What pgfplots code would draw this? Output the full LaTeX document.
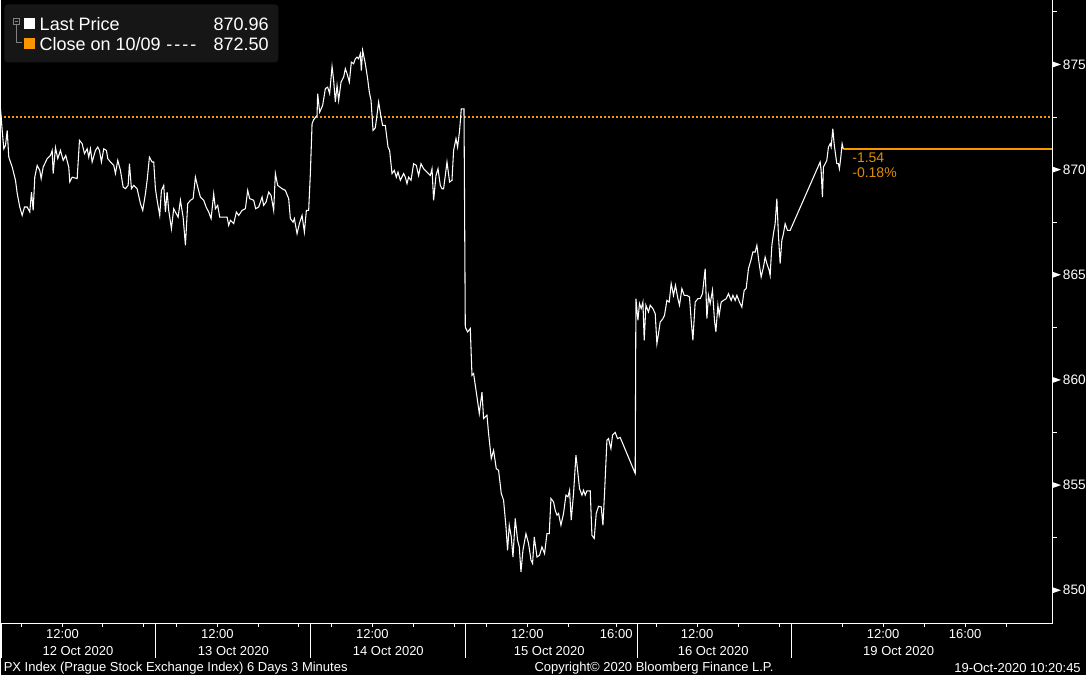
\documentclass[border=0pt]{standalone}
\usepackage{fontspec}
\setmainfont{Liberation Sans}
\usepackage{pgfplots}
\pgfplotsset{compat=1.18}

\definecolor{bbgorange}{RGB}{250,150,0}
\definecolor{bbgtext}{RGB}{225,140,0}
\definecolor{legbg}{RGB}{22,22,22}
\newcommand{\axfont}{\fontsize{9.75pt}{11pt}\selectfont}
\newcommand{\legfont}{\fontsize{13.5pt}{15pt}\selectfont}

\begin{document}
\begin{tikzpicture}
% page = 1086 x 675 px, 1px = 0.75pt, y downwards in the pixel scope
\begin{scope}[x=0.75pt,y=-0.75pt]
  \path[use as bounding box, fill=black] (0,0) rectangle (1086,675);
\end{scope}

\begin{axis}[
    at={(0pt,-467.25pt)}, anchor=south west,
    scale only axis, width=789pt, height=467.25pt,
    xmin=0, xmax=1052, ymin=848.43, ymax=878.04,
    axis x line*=bottom, axis y line*=right,
    axis line style={draw=none},
    tick style={draw=none}, major tick length=0pt, minor tick length=0pt,
    xtick={21,62,102,143,176,217,258,298,331,372,413,454,486,527,568,616,656,697,738,779,842,883,924,965,1006},
    xticklabels={,12:00,,,,12:00,,,,12:00,,,,12:00,,16:00,,12:00,,,,12:00,,16:00,},
    xticklabel style={anchor=center, inner sep=0pt, yshift=-8.25pt, text=white, font=\axfont},
    ytick={850,855,860,865,870,875},
    yticklabel style={anchor=west, inner sep=0pt, xshift=8pt, text=white, font=\fontsize{10.25pt}{12pt}\selectfont},
    /pgf/number format/assume math mode=true,
]
% close on 10/09
\addplot[draw=bbgorange, line width=1.5pt, dash pattern=on 1.5pt off 1.5pt] coordinates {(0,872.5) (1052,872.5)};

% last price marker line
\addplot[draw=bbgorange, line width=1.5pt] coordinates {(844,870.96) (1052,870.96)};

% last price, 3 minute bars
\addplot[draw=white, line width=0.8pt] coordinates {
% 12 Oct
(0,872.89) (1.7,871.86) (3.3,870.99) (5,871.15) (6.7,871.86) (8.3,870.59) (11.7,870.12)
(15,869.49) (16.7,868.87) (19.3,868.22) (21.7,867.82) (24,868.22) (26.7,868.22) (29.3,867.98)
(31,868.93) (32.7,868.06) (34.3,869.64) (36.7,870.20) (39.3,869.96) (40.7,869.57) (42.7,870.12)
(46.7,870.52) (50,870.67) (51.7,870.91) (52.7,869.81) (55,871.04) (57.3,870.52) (60,870.91)
(62.7,870.44) (65.3,870.67) (68.3,870.12) (69.3,869.41) (71.7,869.64) (76.7,869.57) (79,871.39)
(81.7,871.23) (84,870.76) (86.7,870.99) (88.3,870.59) (90,870.99) (91.7,870.36) (95,870.91)
(97.3,871.07) (99,870.91) (101,870.36) (103.3,870.99) (106,870.91) (107.3,870.52) (110,870.36)
(113.3,870.20) (115,869.81) (117.3,870.44) (120,869.96) (122.7,869.17) (125,869.09) (127.7,869.25)
(129,870.28) (131,869.09) (133.3,869.25) (136.7,869.09) (140,868.38) (142.3,868.06) (145,868.85)
(146.7,869.49) (149,870.59) (151.7,870.36) (153.3,870.36)
% 13 Oct
(155,869.09) (156.7,868.54) (159.3,867.82) (161,869.01) (163.3,869.25) (165,867.98) (166.7,868.93)
(168.3,868.06) (171,867.19) (173.3,868.14) (175,867.98) (177.7,867.74) (180,868.54) (182.7,867.74)
(185,866.40) (187.3,868.38) (190,868.54) (192.7,868.62) (195,869.64) (197.3,869.17) (200,868.69)
(203.3,868.54) (205.7,868.22) (208.3,867.98) (210.7,867.67) (213.3,868.85) (215,868.14) (217.3,868.30)
(219.3,867.74) (226.7,867.74) (228.3,867.35) (230,867.59) (233.3,867.43) (236,867.98) (238.3,867.82)
(241.7,868.06) (245,868.14) (247.3,869.01) (249.3,868.62) (253.3,868.54) (255.3,868.14) (258.3,868.22)
(261.7,868.69) (263.3,868.30) (265.7,868.46) (268.3,868.93) (270.7,868.77) (273.3,868.06) (275,869.81)
(277.3,869.25) (281.7,869.09) (285,869.01) (288.3,868.62) (290,867.67) (292.7,867.50) (294,867.67)
(296.7,866.95) (299,867.43) (301.7,867.82) (304,867.03) (306,868.06) (308.3,868.06) (310,869.81)
% 14 Oct
(311.7,872.18) (313.3,872.37) (316.7,872.58) (317.3,873.61) (319.3,872.73) (322.3,873.05) (325,873.85)
(327.3,873.92) (329.3,873.61) (331.7,874.90) (333.3,874.24) (335,873.21) (336.7,874.00) (338.3,873.29)
(340.7,874.16) (343.3,874.40) (345,874.80) (346.7,874.56) (349,874.16) (351,875.11) (353.3,875.03)
(355,875.27) (356.7,875.35) (358.3,875.27) (360,875.51) (361,874.71) (362.3,875.67) (365,875.03)
(367.3,874.32) (369,873.68) (370.7,873.29) (372.7,871.86) (375,871.99) (378.3,873.21) (380.7,872.50)
(382.3,872.10) (385,872.10) (387.7,871.07) (389.3,870.91) (391.7,869.81) (394,869.96) (396,869.64)
(397.7,869.88) (400,869.49) (403.3,869.81) (405,869.64) (406.7,869.33) (408.3,869.64) (410.7,869.49)
(413.3,870.28) (416,870.20) (418.3,869.72) (420.7,870.28) (423.3,870.04) (426.7,869.88) (430,869.72)
(431.7,870.04) (433.3,868.54) (435.7,869.72) (437.7,870.04) (440,869.25) (441.7,869.09) (443.3,869.09)
(445,869.72) (446.7,870.36) (449.3,869.41) (451.7,869.49) (453.3,870.91) (455.7,871.47) (457.3,871.07)
(459.3,871.86) (461,872.89) (463.7,872.89)
% 15 Oct
(465,862.51) (467.3,862.28) (470,862.44) (471.7,860.22) (473.3,860.30) (476.7,859.19) (479,858.40)
(481.7,859.42) (483.3,858.16) (486.7,858.32) (488.3,857.45) (491,856.26) (493.3,856.65) (496,855.78)
(498.3,855.70) (501,854.60) (503.3,854.28) (505.7,853.01) (507.3,851.90) (509,853.09) (511,852.53)
(512.7,851.58) (515,853.41) (517.3,852.38) (519,852.06) (520.7,850.87) (522.7,851.90) (525.7,852.69)
(528.3,852.22) (530.7,851.43) (532.3,851.27) (534,852.53) (536.7,851.58) (539.3,851.66) (541.7,852.06)
(544.3,851.74) (546.7,852.69) (549,852.69) (550.7,854.36) (553.3,854.20) (555,853.80) (556.7,853.57)
(558.3,853.65) (560.7,853.09) (563.3,853.65) (565.7,854.52) (567.7,854.44) (569.3,854.75) (571,853.33)
(573.3,854.60) (575.7,856.42) (577.7,855.55) (579.3,854.83) (581.7,854.52) (583.3,854.75) (585,854.52)
(586.7,854.72) (590,854.72) (591.7,852.61) (594,852.46) (596,853.65) (598.3,853.99) (601,853.96)
(602.7,853.09) (604.3,854.60) (606.7,857.13) (608.3,857.21) (610.7,856.73) (612.3,857.37) (615,857.50)
(617.3,857.21) (620,857.26) (635,855.55)
% 16 Oct
(635.7,863.86) (637.7,862.83) (639.3,863.63) (641,863.39) (642.7,863.70) (644,861.88) (645.7,863.55)
(648.3,863.23) (650,863.55) (652.7,863.39) (655,863.15) (656.7,861.72) (658.3,862.20) (660,862.75)
(662.7,862.91) (664.3,863.07) (666.7,863.78) (669,863.70) (671,864.58) (673.3,864.02) (675.3,864.50)
(677.7,863.86) (679.3,863.55) (681.7,864.34) (684,864.02) (686.7,864.02) (689.3,863.94) (691,862.83)
(692.7,861.88) (695,863.70) (697.7,863.86) (700,863.86) (702.3,864.10) (705,865.29) (706.7,862.91)
(708.3,864.02) (710,863.63) (712.3,864.26) (714.3,862.83) (715.7,862.28) (717.7,863.55) (719,863.07)
(721,863.70) (723.3,863.78) (726,863.86) (728.3,864.10) (731,863.78) (732.7,864.02) (735,863.78)
(736.7,864.02) (739.3,863.70) (741.7,863.46) (744,864.26) (746,864.34) (748.3,865.29) (750.7,865.68)
(752.7,866.08) (755,866.08) (756.7,866.40) (759,865.53) (761,864.89) (763.3,865.37) (765,865.84)
(766.7,865.53) (769,865.21) (770,864.97) (771.7,866.40) (773.3,866.95) (775,867.43) (776.7,868.62)
(778.3,866.87) (780,865.53) (781.7,866.64) (783.3,866.95) (785,867.43) (787.3,867.11) (790,867.11)
% 19 Oct
(820,870.36) (821,869.96) (822.3,868.69) (823.3,870.12) (825,870.28) (826.7,870.44) (828.3,871.07)
(830,871.23) (831,871.07) (832.7,871.94) (834,871.23) (835.3,870.76) (836.7,870.28) (838.3,870.28)
(839.3,870.04) (840.7,870.59) (842,871.23) (843.3,870.96)
};
\end{axis}

\begin{scope}[x=0.75pt,y=-0.75pt]
  % axis lines
  \draw[white, line width=0.75pt] (1052.5,0) -- (1052.5,623.5) -- (0,623.5);
  % y ticks
  \foreach \yy in {64,169.2,274.4,379.6,484.8,590}
    \fill[white] (1052.5,\yy-3) -- (1061,\yy) -- (1052.5,\yy+3) -- cycle;
  \foreach \yy in {11.4,116.6,221.8,327,432.2,537.4}
    \draw[white, line width=0.75pt] (1052.5,\yy) -- (1056.5,\yy);
  % x ticks
  \foreach \xx in {21,62,102,143,176,217,258,298,331,372,413,454,486,527,568,616,656,697,738,779,842,883,924,965,1006}
    \draw[white, line width=0.75pt] (\xx,623.5) -- (\xx,627);
  \foreach \xx in {0.5,155,310,465,637,791}
    \draw[white, line width=0.75pt] (\xx,623.5) -- (\xx,658);
  % dates
  \foreach \xx/\dd in {77.5/12 Oct 2020, 233/13 Oct 2020, 388/14 Oct 2020, 549/15 Oct 2020, 713/16 Oct 2020, 898.5/19 Oct 2020}
    \node[text=white, font=\axfont, inner sep=0pt] at (\xx,650.5) {\dd};
  % footer
  \node[text=white, font=\axfont, inner sep=0pt, anchor=west] at (3,668) {PX Index (Prague Stock Exchange Index) 6 Days 3 Minutes};
  \node[text=white, font=\axfont, inner sep=0pt, anchor=west] at (534,668) {Copyright© 2020 Bloomberg Finance L.P.};
  \node[text=white, font=\axfont, inner sep=0pt, anchor=east] at (1081,668) {19-Oct-2020 10:20:45};
  % change annotation
  \node[text=bbgtext, font=\fontsize{10.5pt}{12pt}\selectfont, inner sep=0pt, anchor=west] at (852,157.5) {-1.54};
  \node[text=bbgtext, font=\fontsize{10.5pt}{12pt}\selectfont, inner sep=0pt, anchor=west] at (852,172.5) {-0.18\%};
  % legend
  \fill[legbg, rounded corners=2.5pt] (4,4) rectangle (278,62);
  \draw[gray, line width=0.75pt] (13,18) rectangle (19.5,24.5);
  \draw[gray, line width=0.75pt] (14.5,21.25) -- (18,21.25);
  \draw[gray, line width=0.75pt] (16.25,24.5) -- (16.25,42.5) -- (22,42.5);
  \fill[white] (23.5,17.5) rectangle (34.5,29);
  \fill[bbgorange] (23.5,37.5) rectangle (34.5,49);
  \node[text=white, font=\legfont, inner sep=0pt, anchor=west] at (39,23.5) {Last Price};
  \node[text=white, font=\legfont, inner sep=0pt, anchor=east] at (268.5,23.5) {870.96};
  \node[text=white, font=\legfont, inner sep=0pt, anchor=west] at (39,43.5) {Close on 10/09 \hspace{0.5pt}{-}\hspace{1.5pt}{-}\hspace{1.5pt}{-}\hspace{1.5pt}{-}};
  \node[text=white, font=\legfont, inner sep=0pt, anchor=east] at (268.5,43.5) {872.50};
\end{scope}
\end{tikzpicture}
\end{document}
